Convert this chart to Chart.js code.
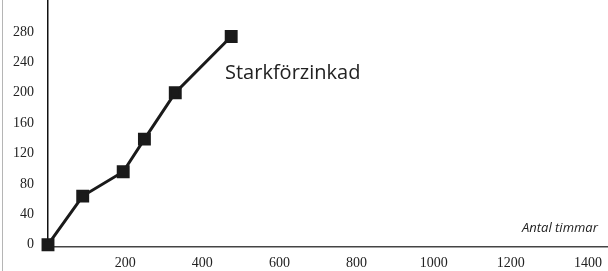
<!DOCTYPE html>
<html>
<head>
<meta charset="utf-8">
<script src="https://cdn.jsdelivr.net/npm/chart.js@4"></script>
<style>
  html, body { margin: 0; padding: 0; background: #fff; }
  #wrap { position: relative; width: 608px; height: 271px; overflow: hidden; }
  #edge { position: absolute; left: 2px; top: 0; width: 1px; height: 271px; background: #b5b5b5; }
</style>
</head>
<body>
<div id="wrap">
  <canvas id="chart" width="608" height="271"></canvas>
  <div id="edge"></div>
</div>
<script>
/* ===============================
   DATA
================================ */
const hours = [0, 90, 195, 250, 330, 475];
const corrosion = [0, 64, 96, 139, 200, 274];
const xTicks = [200, 400, 600, 800, 1000, 1200, 1400];
const yTicks = [0, 40, 80, 120, 160, 200, 240, 280];
const seriesLabel = "Starkförzinkad";
const xTitle = "Antal timmar";

/* ===============================
   TEXT LABELS
================================ */
const labelPlugin = {
  id: "labels",
  afterDraw(chart) {
    const ctx = chart.ctx;
    ctx.save();
    ctx.fillStyle = "#222";
    ctx.textBaseline = "middle";
    ctx.font = "20px 'Open Sans'";
    ctx.textAlign = "left";
    ctx.fillText(seriesLabel, 225, 73);
    ctx.font = "italic 13px 'Open Sans'";
    ctx.fillText(xTitle, 522, 228);
    ctx.restore();
  }
};

const points = hours.map((h, i) => ({ x: h, y: corrosion[i] }));

new Chart(document.getElementById("chart").getContext("2d"), {
  type: "line",
  data: {
    datasets: [
      {
        data: points,
        borderColor: "#1a1a1a",
        backgroundColor: "#1a1a1a",
        borderWidth: 3,
        pointStyle: "rect",
        pointRadius: 7,
        pointHoverRadius: 7,
        tension: 0,
        clip: false
      }
    ]
  },
  options: {
    responsive: false,
    animation: false,
    events: [],
    layout: { autoPadding: false, padding: 0 },
    plugins: {
      legend: { display: false },
      tooltip: { enabled: false }
    },
    scales: {
      x: {
        type: "linear",
        min: 0,
        max: 1452,
        afterBuildTicks: axis => { axis.ticks = xTicks.map(v => ({ value: v })); },
        afterFit: axis => {
          axis.height = 24;
          axis.paddingLeft = 0;
          axis.paddingRight = 0;
        },
        grid: { display: false, drawTicks: false },
        border: { color: "#444", width: 1.5 },
        ticks: {
          padding: 8,
          color: "#222",
          maxRotation: 0,
          autoSkip: false,
          callback: v => String(v),
          font: { family: "Liberation Serif", size: 14 }
        }
      },
      y: {
        type: "linear",
        min: -3,
        max: 322,
        afterBuildTicks: axis => { axis.ticks = yTicks.map(v => ({ value: v })); },
        afterFit: axis => {
          axis.width = 48;
          axis.paddingTop = 0;
          axis.paddingBottom = 0;
        },
        grid: { display: false, drawTicks: false },
        border: { color: "#111", width: 1.5 },
        ticks: {
          padding: 14,
          color: "#222",
          callback: v => String(v),
          font: { family: "Liberation Serif", size: 14 }
        }
      }
    }
  },
  plugins: [labelPlugin]
});
</script>
</body>
</html>
